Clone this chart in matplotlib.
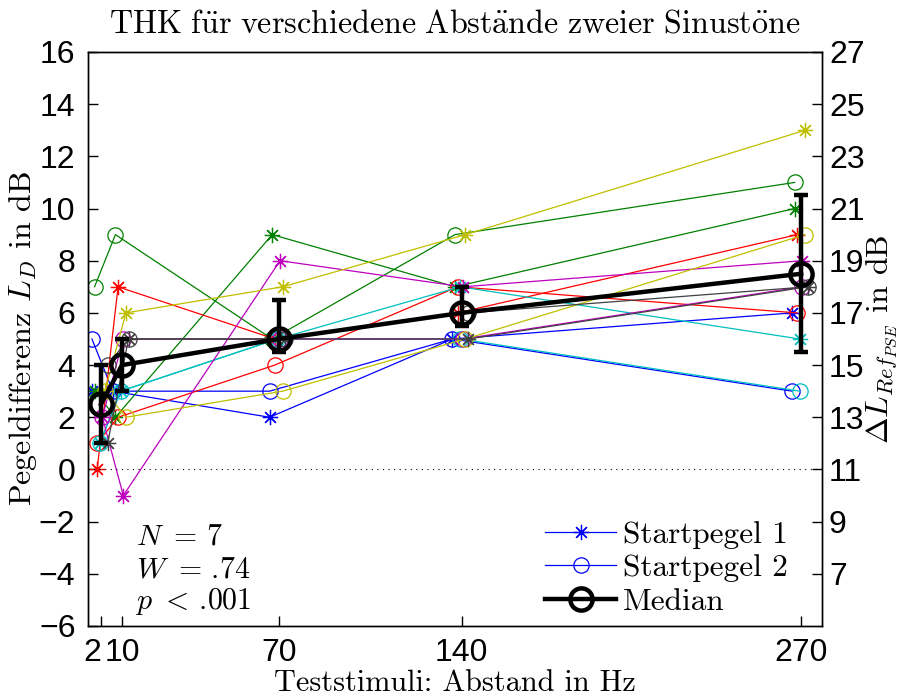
import numpy as np
import matplotlib
matplotlib.use('Agg')
import matplotlib.pyplot as plt
from matplotlib.lines import Line2D
from matplotlib.ticker import MultipleLocator, FixedLocator

# ---------------- layout ----------------
plt.rcParams['mathtext.fontset'] = 'cm'
plt.rcParams['axes.unicode_minus'] = True
serif = ['cmr10', 'DejaVu Serif']
tickfont = ['Liberation Sans', 'DejaVu Sans']

# ---------------- data ----------------
stimuli = [2, 10, 70, 140, 270]          # Abstand in Hz
subject_colors = [(0, 0, 1), (0, 0.5, 0), (1, 0, 0), (0, 0.75, 0.75),
                  (0.75, 0, 0.75), (0.75, 0.75, 0), (0.25, 0.25, 0.25)]
jitter = [-3.5, -2.5, -1.5, -0.5, 0.5, 1.5, 2.5]   # x-shift per subject

# Startpegel 1 (one row per subject)
start1 = [
    [3, 3, 2, 5, 6],
    [3, 2, 9, 7, 10],
    [0, 7, 5, 6, 9],
    [1, 3, 5, 7, 5],
    [2, -1, 8, 7, 8],
    [3, 6, 7, 9, 13],
    [1, 5, 5, 5, 7],
]
# Startpegel 2
start2 = [
    [5, 3, 3, 5, 3],
    [7, 9, 5, 9, 11],
    [1, 2, 4, 7, 6],
    [1, 3, 5, 5, 3],
    [2, 5, 5, 5, 7],
    [3, 2, 3, 5, 9],
    [4, 5, 5, 6, 7],
]

median = [2.5, 4, 5, 6, 7.5]
q_low = [1, 3, 4.5, 5.5, 4.5]
q_high = [4, 5, 6.5, 7, 10.5]

# ---------------- plot ----------------
fig = plt.figure(figsize=(8.99, 6.96), dpi=100)
ax = fig.add_axes([0.0979, 0.1006, 0.8165, 0.8247])

asterisk = (8, 2, 0)
for i, col in enumerate(subject_colors):
    xs = np.array(stimuli) + jitter[i]
    ax.plot(xs, start1[i], '-', marker=asterisk, color=col, lw=0.9, ms=11,
            mew=0.9)
    ax.plot(xs, start2[i], '-', marker='o', color=col, lw=0.9, ms=11,
            mfc='none', mew=0.9)

med = np.array(median)
yerr = [med - np.array(q_low), np.array(q_high) - med]
ax.errorbar(stimuli, median, yerr=yerr, fmt='-o', color='k', lw=3.2, ms=16,
            mfc='none', mew=3.2, elinewidth=3.2, capsize=5, capthick=3.2,
            zorder=10)

ax.axhline(0, color='k', ls=':', lw=0.8, dashes=(1, 4))

ax.set_xlim(-3, 278)
ax.set_ylim(-6, 16)
ax.xaxis.set_major_locator(FixedLocator(stimuli))
ax.yaxis.set_major_locator(MultipleLocator(2))
ax.tick_params(direction='in', length=7, width=1, top=False, right=False,
               labelsize=23)
ax.tick_params(axis='y', pad=9)
ax.tick_params(axis='x', pad=9)

ax2 = ax.twinx()
ax2.set_ylim(-6 + 11, 16 + 11)
ax2.yaxis.set_major_locator(FixedLocator(np.arange(7, 28, 2)))
ax2.tick_params(direction='in', length=7, width=1, labelsize=23, pad=5)

for lab in ax.get_xticklabels() + ax.get_yticklabels() + ax2.get_yticklabels():
    lab.set_family(tickfont)
# "2" sits right next to "10": right-align it on its tick
ax.xaxis.get_major_ticks()[0].label1.set_horizontalalignment('right')

for a in (ax, ax2):
    for s in a.spines.values():
        s.set_linewidth(1)

ax.set_title(r'$\mathrm{THK\ f\ddot{u}r\ verschiedene\ Abst\ddot{a}nde\ zweier\ Sinust\ddot{o}ne}$',
             fontsize=23.1, pad=14)
ax.set_xlabel('Teststimuli: Abstand in Hz', family=serif, fontsize=21.8, labelpad=1)
ax.set_ylabel(r'Pegeldifferenz $L_D$ in dB', family=serif, fontsize=23, labelpad=0)
ax2.set_ylabel(r'$\Delta L_{Ref_{PSE}}$ in dB', family=serif, fontsize=23, labelpad=0)

ax.text(0.066, 0.155, r'$N\ =\,$7', family=serif, transform=ax.transAxes,
        fontsize=21.5, va='center')
ax.text(0.066, 0.098, r'$W\ =\,$.74', family=serif, transform=ax.transAxes,
        fontsize=21.5, va='center')
ax.text(0.066, 0.042, r'$p\ <\,$.001', family=serif, transform=ax.transAxes,
        fontsize=21.5, va='center')

handles = [
    Line2D([], [], color='b', lw=0.9, marker=asterisk, ms=11, mew=0.9),
    Line2D([], [], color='b', lw=0.9, marker='o', ms=11, mfc='none', mew=0.9),
    Line2D([], [], color='k', lw=3.2, marker='o', ms=16, mfc='none', mew=3.2),
]
ax.legend(handles, ['Startpegel 1', 'Startpegel 2', 'Median'],
          loc='lower right', bbox_to_anchor=(0.953, 0.018), frameon=False,
          prop={'family': serif, 'size': 22.5}, handlelength=2.25,
          handletextpad=0.22, labelspacing=0.17, borderaxespad=0,
          borderpad=0)

fig.savefig('out.png', dpi=100)
